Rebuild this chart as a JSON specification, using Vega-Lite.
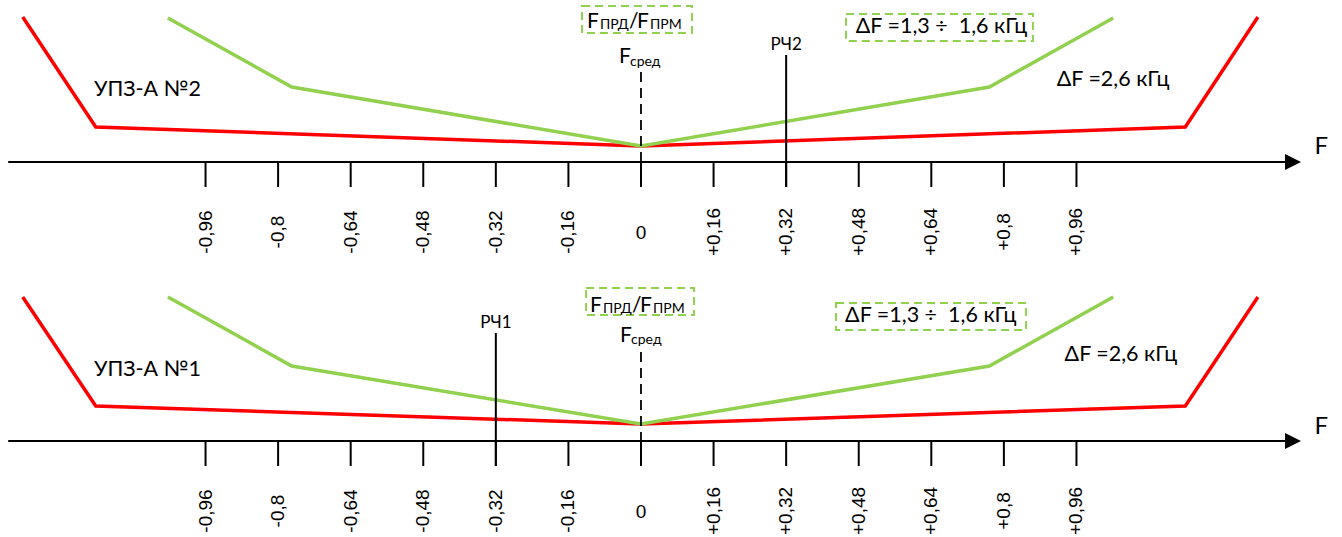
{
  "$schema": "https://vega.github.io/schema/vega-lite/v6.json",
  "padding": 0,
  "spacing": 0,
  "bounds": "flush",
  "config": {"view": {"stroke": null}, "axis": {"disable": true}, "text": {"font": "Lato", "color": "#000000"}},
  "datasets": {
    "curves": [
      {"panel": 1, "band": "ΔF = 2,6 кГц", "f": -1.363, "a": 145},
      {"panel": 1, "band": "ΔF = 2,6 кГц", "f": -1.202, "a": 35},
      {"panel": 1, "band": "ΔF = 2,6 кГц", "f": 0, "a": 16},
      {"panel": 1, "band": "ΔF = 2,6 кГц", "f": 1.2, "a": 35},
      {"panel": 1, "band": "ΔF = 2,6 кГц", "f": 1.36, "a": 145},
      {"panel": 1, "band": "ΔF = 1,3 ÷ 1,6 кГц", "f": -1.043, "a": 144},
      {"panel": 1, "band": "ΔF = 1,3 ÷ 1,6 кГц", "f": -0.77, "a": 75},
      {"panel": 1, "band": "ΔF = 1,3 ÷ 1,6 кГц", "f": 0, "a": 16},
      {"panel": 1, "band": "ΔF = 1,3 ÷ 1,6 кГц", "f": 0.768, "a": 75},
      {"panel": 1, "band": "ΔF = 1,3 ÷ 1,6 кГц", "f": 1.041, "a": 144},
      {"panel": 2, "band": "ΔF = 2,6 кГц", "f": -1.363, "a": 144},
      {"panel": 2, "band": "ΔF = 2,6 кГц", "f": -1.202, "a": 35},
      {"panel": 2, "band": "ΔF = 2,6 кГц", "f": 0, "a": 17},
      {"panel": 2, "band": "ΔF = 2,6 кГц", "f": 1.2, "a": 35},
      {"panel": 2, "band": "ΔF = 2,6 кГц", "f": 1.36, "a": 144},
      {"panel": 2, "band": "ΔF = 1,3 ÷ 1,6 кГц", "f": -1.043, "a": 144},
      {"panel": 2, "band": "ΔF = 1,3 ÷ 1,6 кГц", "f": -0.77, "a": 75},
      {"panel": 2, "band": "ΔF = 1,3 ÷ 1,6 кГц", "f": 0, "a": 17},
      {"panel": 2, "band": "ΔF = 1,3 ÷ 1,6 кГц", "f": 0.768, "a": 75},
      {"panel": 2, "band": "ΔF = 1,3 ÷ 1,6 кГц", "f": 1.041, "a": 144}
    ],
    "ticks": [
      {"f": -0.96, "label": "-0,96"}, {"f": -0.8, "label": "-0,8"}, {"f": -0.64, "label": "-0,64"},
      {"f": -0.48, "label": "-0,48"}, {"f": -0.32, "label": "-0,32"}, {"f": -0.16, "label": "-0,16"},
      {"f": 0, "label": "0"}, {"f": 0.16, "label": "+0,16"}, {"f": 0.32, "label": "+0,32"},
      {"f": 0.48, "label": "+0,48"}, {"f": 0.64, "label": "+0,64"}, {"f": 0.8, "label": "+0,8"},
      {"f": 0.96, "label": "+0,96"}
    ],
    "captions": [
      {"panel": 1, "text": "УПЗ-А №2", "f": -1.088, "a": 72},
      {"panel": 1, "text": "ΔF =2,6 кГц", "f": 1.0406, "a": 82},
      {"panel": 1, "text": "ΔF =1,3 ÷\u00a0 1,6 кГц", "f": 0.6625, "a": 135},
      {"panel": 2, "text": "УПЗ-А №1", "f": -1.088, "a": 71},
      {"panel": 2, "text": "ΔF =2,6 кГц", "f": 1.058, "a": 86},
      {"panel": 2, "text": "ΔF =1,3 ÷\u00a0 1,6 кГц", "f": 0.639, "a": 125}
    ],
    "axisname": [
      {"panel": 1, "text": "F", "f": 1.5, "a": 15},
      {"panel": 2, "text": "F", "f": 1.5, "a": 14}
    ],
    "symbols": [
      {"panel": 1, "text": "F", "f": -0.119, "a": 134},
      {"panel": 1, "text": "/", "f": -0.0265, "a": 134},
      {"panel": 1, "text": "F", "f": -0.0088, "a": 134},
      {"panel": 1, "text": "F", "f": -0.0485, "a": 99},
      {"panel": 2, "text": "F", "f": -0.1124, "a": 129},
      {"panel": 2, "text": "/", "f": -0.0199, "a": 129},
      {"panel": 2, "text": "F", "f": -0.0022, "a": 129},
      {"panel": 2, "text": "F", "f": -0.0463, "a": 99}
    ],
    "subscripts": [
      {"panel": 1, "text": "ПРД", "f": -0.0904, "a": 133},
      {"panel": 1, "text": "ПРМ", "f": 0.0199, "a": 133},
      {"panel": 1, "text": "сред", "f": -0.0243, "a": 96},
      {"panel": 2, "text": "ПРД", "f": -0.0838, "a": 128},
      {"panel": 2, "text": "ПРМ", "f": 0.0265, "a": 128},
      {"panel": 2, "text": "сред", "f": -0.022, "a": 97}
    ],
    "boxes": [
      {"panel": 1, "f": -0.13, "f2": 0.1124, "a": 129, "a2": 156},
      {"panel": 1, "f": 0.452, "f2": 0.864, "a": 121, "a2": 148},
      {"panel": 2, "f": -0.121, "f2": 0.117, "a": 126, "a2": 153},
      {"panel": 2, "f": 0.43, "f2": 0.849, "a": 111, "a2": 138}
    ],
    "centre": [
      {"panel": 1, "f": 0, "a": 90, "a2": 0},
      {"panel": 2, "f": 0, "a": 89, "a2": 0}
    ],
    "channels": [
      {"panel": 1, "text": "РЧ2", "f": 0.32, "a": 107, "a2": -25},
      {"panel": 2, "text": "РЧ1", "f": -0.32, "a": 108, "a2": -25}
    ]
  },
  "vconcat": [
    {
      "width": 1342,
      "height": 279,
      "layer": [
        {"data": {"name": "boxes"}, "transform": [{"filter": "datum.panel == 1"}],
         "mark": {"type": "rect", "filled": false, "stroke": "#92D050", "strokeWidth": 2, "strokeDash": [8, 5]},
         "encoding": {
           "x": {"field": "f", "type": "quantitative", "scale": {"domain": [-1.4131, 1.5454], "nice": false, "zero": false}},
           "y": {"field": "a", "type": "quantitative", "scale": {"domain": [-117, 162], "nice": false, "zero": false}},
           "x2": {"field": "f2"}, "y2": {"field": "a2"}}},
        {"data": {"name": "curves"}, "transform": [{"filter": "datum.panel == 1"}],
         "mark": {"type": "line", "strokeWidth": 3.5},
         "encoding": {
           "x": {"field": "f", "type": "quantitative"},
           "y": {"field": "a", "type": "quantitative"},
           "color": {"field": "band", "type": "nominal", "scale": {"domain": ["ΔF = 1,3 ÷ 1,6 кГц", "ΔF = 2,6 кГц"], "range": ["#92D050", "#FF0000"]}, "legend": null}}},
        {"data": {"name": "centre"}, "transform": [{"filter": "datum.panel == 1"}],
         "mark": {"type": "rule", "color": "#000000", "strokeWidth": 1.8, "strokeDash": [10, 6]},
         "encoding": {"x": {"field": "f", "type": "quantitative"}, "y": {"field": "a", "type": "quantitative"}, "y2": {"field": "a2"}}},
        {"data": {"name": "channels"}, "transform": [{"filter": "datum.panel == 1"}],
         "mark": {"type": "rule", "color": "#000000", "strokeWidth": 2},
         "encoding": {"x": {"field": "f", "type": "quantitative"}, "y": {"field": "a", "type": "quantitative"}, "y2": {"field": "a2"}}},
        {"data": {"name": "channels"}, "transform": [{"filter": "datum.panel == 1"}],
         "mark": {"type": "text", "fontSize": 17, "align": "center", "baseline": "alphabetic", "dy": -5},
         "encoding": {"x": {"field": "f", "type": "quantitative"}, "y": {"field": "a", "type": "quantitative"}, "text": {"field": "text"}}},
        {"data": {"values": [{}]},
         "mark": {"type": "rule", "color": "#000000", "strokeWidth": 2},
         "encoding": {"x": {"datum": -1.395}, "x2": {"datum": 1.43}, "y": {"datum": 0}}},
        {"data": {"values": [{}]},
         "mark": {"type": "point", "shape": "M -1 -1 L 1 0 L -1 1 Z", "filled": true, "color": "#000000", "opacity": 1, "size": 256},
         "encoding": {"x": {"datum": 1.4374}, "y": {"datum": 0}}},
        {"data": {"name": "ticks"},
         "mark": {"type": "rule", "color": "#000000", "strokeWidth": 2},
         "encoding": {"x": {"field": "f", "type": "quantitative"}, "y": {"datum": 0}, "y2": {"datum": -25}}},
        {"data": {"name": "ticks"}, "transform": [{"filter": "datum.f != 0"}],
         "mark": {"type": "text", "font": "Liberation Sans", "fontSize": 19, "angle": 270, "align": "center", "baseline": "middle"},
         "encoding": {"x": {"field": "f", "type": "quantitative"}, "y": {"datum": -70}, "text": {"field": "label"}}},
        {"data": {"name": "ticks"}, "transform": [{"filter": "datum.f == 0"}],
         "mark": {"type": "text", "font": "Liberation Sans", "fontSize": 19, "align": "center", "baseline": "middle"},
         "encoding": {"x": {"field": "f", "type": "quantitative"}, "y": {"datum": -71}, "text": {"field": "label"}}},
        {"data": {"name": "captions"}, "transform": [{"filter": "datum.panel == 1"}],
         "mark": {"type": "text", "fontSize": 21.5, "align": "center", "baseline": "middle"},
         "encoding": {"x": {"field": "f", "type": "quantitative"}, "y": {"field": "a", "type": "quantitative"}, "text": {"field": "text"}}},
        {"data": {"name": "axisname"}, "transform": [{"filter": "datum.panel == 1"}],
         "mark": {"type": "text", "fontSize": 24, "align": "center", "baseline": "middle"},
         "encoding": {"x": {"field": "f", "type": "quantitative"}, "y": {"field": "a", "type": "quantitative"}, "text": {"field": "text"}}},
        {"data": {"name": "symbols"}, "transform": [{"filter": "datum.panel == 1"}],
         "mark": {"type": "text", "fontSize": 21, "align": "left", "baseline": "alphabetic"},
         "encoding": {"x": {"field": "f", "type": "quantitative"}, "y": {"field": "a", "type": "quantitative"}, "text": {"field": "text"}}},
        {"data": {"name": "subscripts"}, "transform": [{"filter": "datum.panel == 1"}],
         "mark": {"type": "text", "fontSize": 14, "align": "left", "baseline": "alphabetic"},
         "encoding": {"x": {"field": "f", "type": "quantitative"}, "y": {"field": "a", "type": "quantitative"}, "text": {"field": "text"}}}
      ]
    },
    {
      "width": 1342,
      "height": 258,
      "layer": [
        {"data": {"name": "boxes"}, "transform": [{"filter": "datum.panel == 2"}],
         "mark": {"type": "rect", "filled": false, "stroke": "#92D050", "strokeWidth": 2, "strokeDash": [8, 5]},
         "encoding": {
           "x": {"field": "f", "type": "quantitative", "scale": {"domain": [-1.4131, 1.5454], "nice": false, "zero": false}},
           "y": {"field": "a", "type": "quantitative", "scale": {"domain": [-96, 162], "nice": false, "zero": false}},
           "x2": {"field": "f2"}, "y2": {"field": "a2"}}},
        {"data": {"name": "curves"}, "transform": [{"filter": "datum.panel == 2"}],
         "mark": {"type": "line", "strokeWidth": 3.5},
         "encoding": {
           "x": {"field": "f", "type": "quantitative"},
           "y": {"field": "a", "type": "quantitative"},
           "color": {"field": "band", "type": "nominal", "scale": {"domain": ["ΔF = 1,3 ÷ 1,6 кГц", "ΔF = 2,6 кГц"], "range": ["#92D050", "#FF0000"]}, "legend": null}}},
        {"data": {"name": "centre"}, "transform": [{"filter": "datum.panel == 2"}],
         "mark": {"type": "rule", "color": "#000000", "strokeWidth": 1.8, "strokeDash": [10, 6]},
         "encoding": {"x": {"field": "f", "type": "quantitative"}, "y": {"field": "a", "type": "quantitative"}, "y2": {"field": "a2"}}},
        {"data": {"name": "channels"}, "transform": [{"filter": "datum.panel == 2"}],
         "mark": {"type": "rule", "color": "#000000", "strokeWidth": 2},
         "encoding": {"x": {"field": "f", "type": "quantitative"}, "y": {"field": "a", "type": "quantitative"}, "y2": {"field": "a2"}}},
        {"data": {"name": "channels"}, "transform": [{"filter": "datum.panel == 2"}],
         "mark": {"type": "text", "fontSize": 17, "align": "center", "baseline": "alphabetic", "dy": -5},
         "encoding": {"x": {"field": "f", "type": "quantitative"}, "y": {"field": "a", "type": "quantitative"}, "text": {"field": "text"}}},
        {"data": {"values": [{}]},
         "mark": {"type": "rule", "color": "#000000", "strokeWidth": 2},
         "encoding": {"x": {"datum": -1.395}, "x2": {"datum": 1.43}, "y": {"datum": 0}}},
        {"data": {"values": [{}]},
         "mark": {"type": "point", "shape": "M -1 -1 L 1 0 L -1 1 Z", "filled": true, "color": "#000000", "opacity": 1, "size": 256},
         "encoding": {"x": {"datum": 1.4374}, "y": {"datum": 0}}},
        {"data": {"name": "ticks"},
         "mark": {"type": "rule", "color": "#000000", "strokeWidth": 2},
         "encoding": {"x": {"field": "f", "type": "quantitative"}, "y": {"datum": 0}, "y2": {"datum": -25}}},
        {"data": {"name": "ticks"}, "transform": [{"filter": "datum.f != 0"}],
         "mark": {"type": "text", "font": "Liberation Sans", "fontSize": 19, "angle": 270, "align": "center", "baseline": "middle"},
         "encoding": {"x": {"field": "f", "type": "quantitative"}, "y": {"datum": -70}, "text": {"field": "label"}}},
        {"data": {"name": "ticks"}, "transform": [{"filter": "datum.f == 0"}],
         "mark": {"type": "text", "font": "Liberation Sans", "fontSize": 19, "align": "center", "baseline": "middle"},
         "encoding": {"x": {"field": "f", "type": "quantitative"}, "y": {"datum": -71}, "text": {"field": "label"}}},
        {"data": {"name": "captions"}, "transform": [{"filter": "datum.panel == 2"}],
         "mark": {"type": "text", "fontSize": 21.5, "align": "center", "baseline": "middle"},
         "encoding": {"x": {"field": "f", "type": "quantitative"}, "y": {"field": "a", "type": "quantitative"}, "text": {"field": "text"}}},
        {"data": {"name": "axisname"}, "transform": [{"filter": "datum.panel == 2"}],
         "mark": {"type": "text", "fontSize": 24, "align": "center", "baseline": "middle"},
         "encoding": {"x": {"field": "f", "type": "quantitative"}, "y": {"field": "a", "type": "quantitative"}, "text": {"field": "text"}}},
        {"data": {"name": "symbols"}, "transform": [{"filter": "datum.panel == 2"}],
         "mark": {"type": "text", "fontSize": 21, "align": "left", "baseline": "alphabetic"},
         "encoding": {"x": {"field": "f", "type": "quantitative"}, "y": {"field": "a", "type": "quantitative"}, "text": {"field": "text"}}},
        {"data": {"name": "subscripts"}, "transform": [{"filter": "datum.panel == 2"}],
         "mark": {"type": "text", "fontSize": 14, "align": "left", "baseline": "alphabetic"},
         "encoding": {"x": {"field": "f", "type": "quantitative"}, "y": {"field": "a", "type": "quantitative"}, "text": {"field": "text"}}}
      ]
    }
  ]
}
